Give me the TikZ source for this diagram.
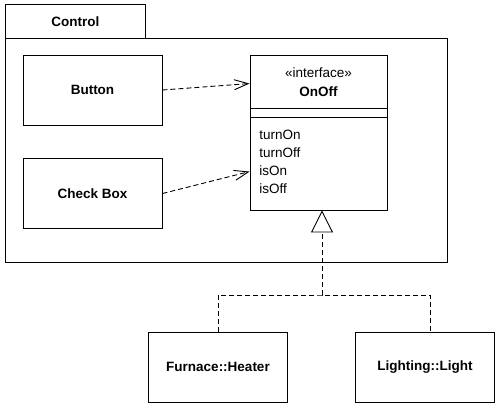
\documentclass[tikz,border=0pt]{standalone}
\usepackage{fontspec}
\setmainfont{Liberation Sans}
\usetikzlibrary{arrows.meta}

\begin{document}
\begin{tikzpicture}[x=1pt, y=-1pt, line width=0.9pt,
    label font/.style={font=\fontsize{13.5}{18}\selectfont},
    bold font/.style={font=\fontsize{13.5}{18}\selectfont\bfseries},
    classbox/.style={rectangle, draw, minimum width=139pt, minimum height=70pt, bold font},
    usage/.style={draw, dash pattern=on 5pt off 3pt, -{Straight Barb[length=14pt,width=10pt]}},
    realize/.style={draw, dash pattern=on 5pt off 3pt}]
    \useasboundingbox (0,0) rectangle (500,407);
    \node[rectangle, draw, minimum width=140pt, minimum height=34pt, anchor=north west, bold font] (tab) at (5,4) {Control};
    \node[rectangle, draw, minimum width=442pt, minimum height=224pt, anchor=north west] (pkg) at (5,38) {};
    \node[classbox] (button) at (92.5,90) {Button};
    \node[classbox] (checkbox) at (92.5,193.5) {Check Box};
    \node[rectangle, draw, minimum width=137pt, minimum height=155pt] (onoff) at (318.5,132.5) {};
        \node[label font] (stereo) at (318.5,73) {«interface»};
        \node[bold font] (name) at (318.5,92) {OnOff};
        \draw (onoff.west |- 0,108) -- (onoff.east |- 0,108);
        \draw (onoff.west |- 0,117) -- (onoff.east |- 0,117);
        \node[label font, anchor=north west, align=left, inner sep=0pt] (ops) at (259,130) {turnOn\\turnOff\\isOn\\isOff};
    \node[classbox] (heater) at (218,367) {Furnace::Heater};
    \node[classbox] (light) at (425,367) {Lighting::Light};
    \draw[usage] (button.east) -- ([yshift=-29pt]onoff.north west);
    \draw[usage] (checkbox.east) -- ([yshift=-117pt]onoff.north west);
    \coordinate (fork) at (322,295);
    \draw[realize] (heater.north) |- (fork) -| ([xshift=5pt]light.north);
    \draw[realize, -{Triangle[open, length=22pt, width=22pt]}] (fork) -- (onoff.south -| fork);
\end{tikzpicture}
\end{document}
